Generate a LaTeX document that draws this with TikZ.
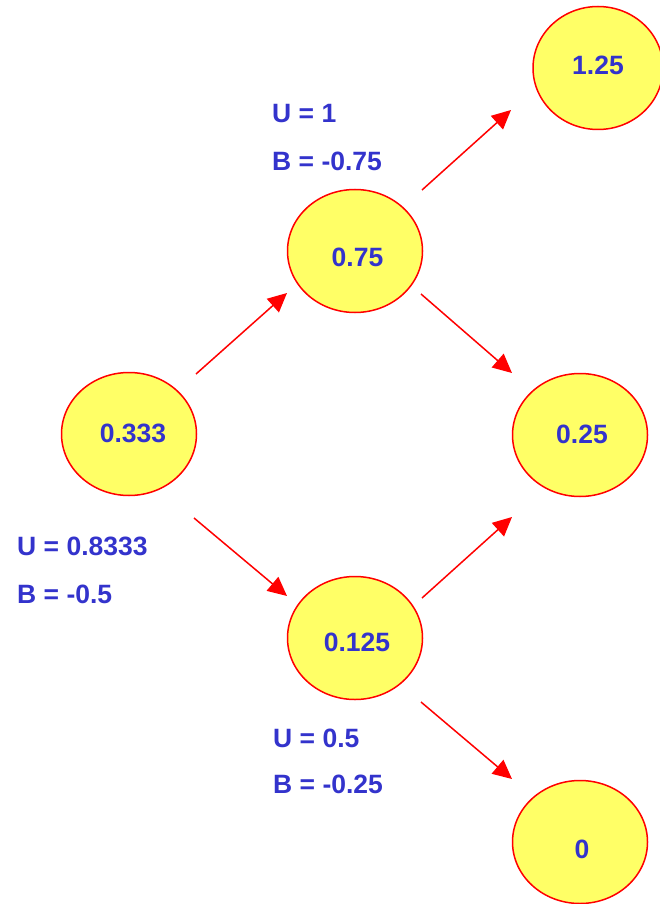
\documentclass[tikz,border=0pt]{standalone}
\usepackage{fontspec}
\setmainfont{Liberation Sans}
\usetikzlibrary{arrows.meta,shapes.geometric}
\definecolor{txtblue}{HTML}{3333CC}
\definecolor{nodeyellow}{HTML}{FFFF66}
\definecolor{linered}{HTML}{FF0000}
\tikzset{
  ell/.style={ellipse, draw=linered, fill=nodeyellow, line width=1.5pt,
    minimum width=135pt, minimum height=123pt, inner sep=0pt},
  val/.style={text=txtblue, font=\fontsize{26.5}{31}\selectfont\bfseries, inner sep=0pt, anchor=center},
  lbl/.style={text=txtblue, font=\fontsize{26.5}{31}\selectfont\bfseries, inner sep=0pt, anchor=base west},
  arr/.style={draw=linered, line width=1.5pt, -{Triangle[length=19pt,width=18pt]}}
}
\begin{document}
\begin{tikzpicture}[x=1pt,y=-1pt]
\useasboundingbox (0,0) rectangle (660,904);
\begin{scope}
\clip (0,0) rectangle (660,904);
\node[ell] (nA) at (129,434) {};
\node[ell] (nB) at (355,251) {};
\node[ell, minimum width=130pt] (nC) at (598,68) {};
\node[ell] (nD) at (580,435) {};
\node[ell] (nE) at (355,638) {};
\node[ell] (nF) at (580,842) {};
\end{scope}
\node[val] (tA) at (133,433) {0.333};
\node[val] (tB) at (357.5,257) {0.75};
\node[val] (tC) at (598,65) {1.25};
\node[val] (tD) at (582,434) {0.25};
\node[val] (tE) at (357,642) {0.125};
\node[val] (tF) at (582,849) {0};
\node[lbl] (uB) at (272,123) {U = 1};
\node[lbl] (bB) at (272,171) {B = -0.75};
\node[lbl] (uA) at (17,555) {U = 0.8333};
\node[lbl] (bA) at (17,603) {B = -0.5};
\node[lbl] (uE) at (273,747) {U = 0.5};
\node[lbl] (bE) at (273,793) {B = -0.25};
\draw[arr] ([shift={(67,-60)}]nA.center) -- ([shift={(-68,42)}]nB.center);
\draw[arr] ([shift={(67,-61)}]nB.center) -- ([shift={(-87,42)}]nC.center);
\draw[arr] ([shift={(66,43)}]nB.center) -- ([shift={(-68,-62)}]nD.center);
\draw[arr] ([shift={(65,84)}]nA.center) -- ([shift={(-68,-42)}]nE.center);
\draw[arr] ([shift={(67,-40)}]nE.center) -- ([shift={(-68,82)}]nD.center);
\draw[arr] ([shift={(66,64)}]nE.center) -- ([shift={(-68,-63)}]nF.center);
\end{tikzpicture}
\end{document}
